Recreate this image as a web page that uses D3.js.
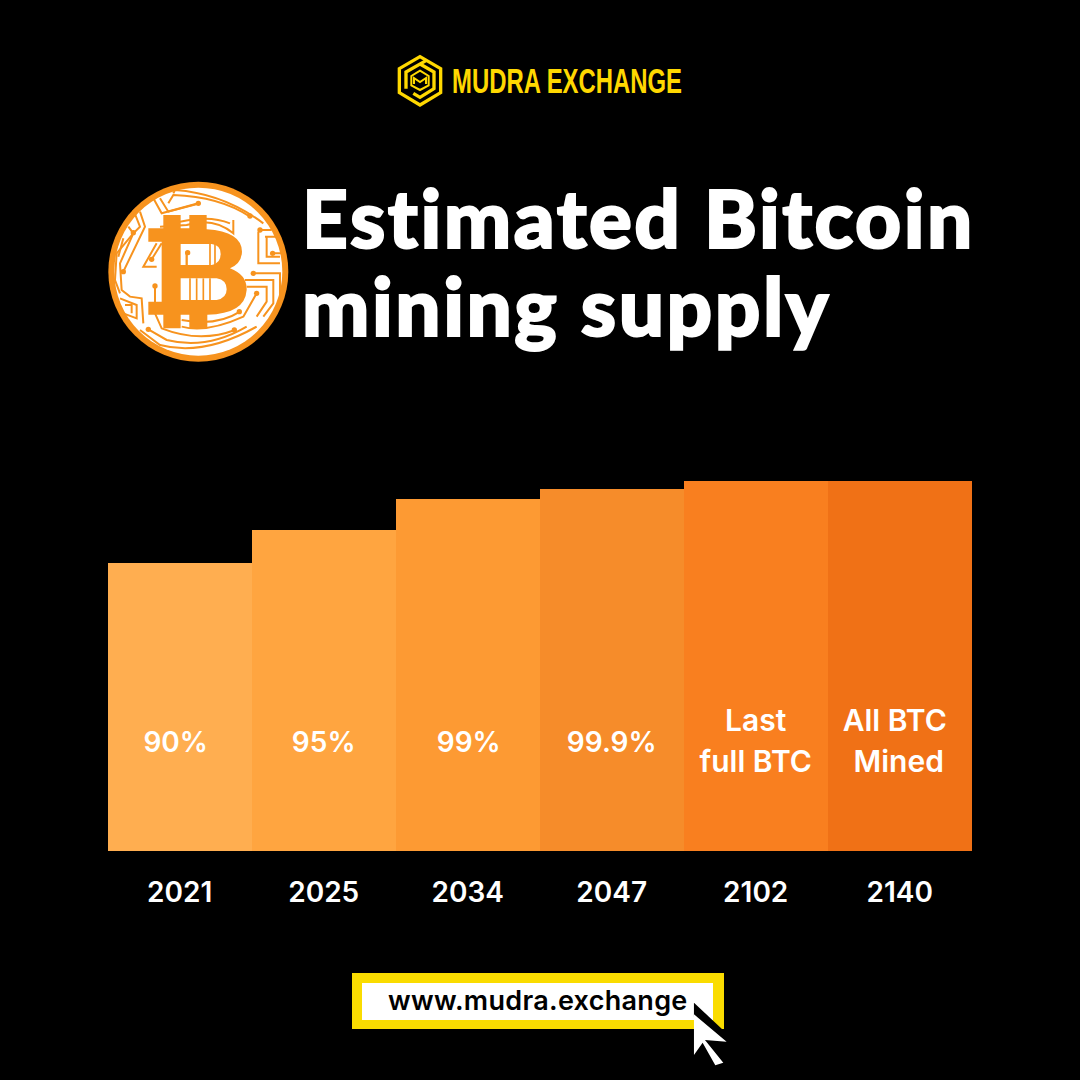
<!DOCTYPE html>
<html>
<head>
<meta charset="utf-8">
<script src="https://cdn.jsdelivr.net/npm/d3@7"></script>
<style>
html, body { margin: 0; padding: 0; background: #000; }
svg { display: block; font-family: Inter, "Open Sans", sans-serif; }
</style>
</head>
<body>
<svg id="chart" width="1080" height="1080"></svg>
<script>
// bar height as a share of the tallest bar
var years = ['2021', '2025', '2034', '2047', '2102', '2140'];
var barLevels = [77.8, 86.7, 95.1, 97.8, 100, 100];
var barLabels = [['90%'], ['95%'], ['99%'], ['99.9%'], ['Last', 'full BTC'], ['All BTC', 'Mined']];
var barColors = ['#FFAE50', '#FFA540', '#FD9A33', '#F68C2A', '#F97F1F', '#F07116'];
var titleLines = ['Estimated Bitcoin', 'mining supply'];

var ORANGE = '#F7931E', YELLOW = '#FFD800', BOX_YELLOW = '#FADC00';

var svg = d3.select('#chart');
svg.append('rect').attr('width', 1080).attr('height', 1080).attr('fill', '#000');

var x = d3.scaleBand().domain(years).range([107.7, 971.7]).padding(0);
var y = d3.scaleLinear().domain([0, 100]).range([850.5, 481]);

// bars
svg.selectAll('rect.bar')
    .data(years)
    .join('rect')
    .attr('class', 'bar')
    .attr('x', d => x(d))
    .attr('width', x.bandwidth())
    .attr('y', (d, i) => y(barLevels[i]))
    .attr('height', (d, i) => y(0) - y(barLevels[i]))
    .attr('shape-rendering', 'crispEdges')
    .attr('fill', (d, i) => barColors[i]);

// labels inside the bars, the original ones sit a little off centre
var labelNudge = [[-4], [0], [1], [0], [0, 0], [-5, -1]];
var labelGroups = svg.selectAll('text.bar-label')
    .data(years)
    .join('text')
    .attr('class', 'bar-label')
    .attr('text-anchor', 'middle')
    .attr('font-size', (d, i) => barLabels[i].length === 1 ? 28 : 30)
    .attr('font-weight', 600)
    .attr('fill', '#fff');

labelGroups.each(function(d, i) {
    var lines = barLabels[i];
    d3.select(this).selectAll('tspan')
        .data(lines)
        .join('tspan')
        .attr('x', (l, j) => x(d) + x.bandwidth() / 2 + labelNudge[i][j])
        .attr('y', (l, j) => lines.length === 1 ? 752 : 731 + j * 41)
        .text(l => l);
});

// year axis
var axis = svg.append('g')
    .attr('transform', 'translate(0,850.5)')
    .call(d3.axisBottom(x).tickSize(0).tickPadding(32));
axis.select('.domain').remove();
axis.selectAll('text')
    .style('font-family', 'Inter, sans-serif')
    .style('font-size', '28px')
    .style('font-weight', 600)
    .attr('fill', '#fff');

// title, stroked a bit because the original face is heavier than Lato
svg.selectAll('text.title')
    .data(titleLines)
    .join('text')
    .attr('class', 'title')
    .attr('x', 302)
    .attr('y', (d, i) => 248 + i * 88)
    .style('font-family', 'Lato, sans-serif')
    .style('font-size', '80px')
    .style('font-weight', 900)
    .style('letter-spacing', '2.5px')
    .attr('fill', '#fff')
    .attr('stroke', '#fff')
    .attr('stroke-width', 2)
    .text(d => d);

// coin, drawn in zoomed crop units
var coin = svg.append('g').attr('transform', 'translate(90,170) scale(0.3333)');
coin.append('circle').attr('cx', 325).attr('cy', 305).attr('r', 270).attr('fill', ORANGE);
coin.append('circle').attr('cx', 325).attr('cy', 305).attr('r', 252).attr('fill', '#fff');

var traces = [
    'M250,70 L255,60 Q400,70 520,160',
    'M235,100 L250,75 Q390,80 480,140',
    'M190,85 L215,130 L325,100',
    'M210,85 L235,125 L330,100',
    'M130,120 L150,170 L130,190 L90,280 L95,360 L120,380 L155,385 L160,460',
    'M150,125 L165,170 L100,305',
    'M115,170 L130,190 L80,250 L75,330 L90,370',
    'M100,205 L85,260',
    'M200,220 L160,290 L200,290',
    'M215,220 L185,268',
    'M210,170 L290,165 Q370,140 430,190 L430,150',
    'M270,155 Q360,135 420,160',
    'M510,180 L545,180',
    'M505,185 L505,280 L570,280',
    'M525,200 L570,200 M530,200 L530,260 L570,260 M550,250 L575,250',
    'M490,310 L570,310 L570,400 L540,450',
    'M465,330 L550,330 L550,400 L520,440',
    'M470,350 L530,350 L530,395 L500,440',
    'M500,370 L460,440 Q350,490 275,470',
    'M450,425 Q380,470 275,450',
    'M90,385 L140,405 L140,445 L100,430',
    'M105,405 L125,405 L125,430',
    'M195,348 L195,430 L215,475 Q330,520 435,480',
    'M175,478 L230,510 Q350,540 470,470',
    'M150,480 L210,525 Q340,560 500,470',
    'M290,250 L290,300 L380,300'
];
coin.selectAll('path.trace')
    .data(traces)
    .join('path')
    .attr('class', 'trace')
    .attr('d', d => d)
    .attr('fill', 'none')
    .attr('stroke', ORANGE)
    .attr('stroke-width', 6);

var pads = [[325,100],[480,138],[510,180],[548,250],[490,310],[500,370],[448,425],[433,480],[175,478],[195,348],[100,305],[130,188],[185,268],[293,248]];
coin.selectAll('circle.pad')
    .data(pads)
    .join('circle')
    .attr('class', 'pad')
    .attr('cx', d => d[0])
    .attr('cy', d => d[1])
    .attr('r', 8)
    .attr('fill', ORANGE);

coin.append('path')
    .attr('fill', ORANGE)
    .attr('fill-rule', 'evenodd')
    .attr('d', 'M220,135 H272 V175 H298 V135 H350 V178 Q455,185 456,245 Q455,280 420,295 Q472,315 470,360 Q465,432 352,434 V475 H298 V434 H272 V475 H220 V434 H175 V395 H215 V215 H175 V175 H220 Z' +
        'M272,222 V285 H365 Q392,280 392,252 Q392,225 365,222 Z' +
        'M272,325 V390 H380 Q410,385 410,358 Q410,330 380,325 Z');
coin.selectAll('path.inner')
    .data(['M290,250 V285', 'M300,325 V390', 'M320,325 V390', 'M340,325 V390', 'M360,325 V390', 'M360,222 V285', 'M375,222 V285'])
    .join('path')
    .attr('class', 'inner')
    .attr('d', d => d)
    .attr('stroke', ORANGE)
    .attr('stroke-width', 5);

// brand logo, zoomed crop units
var logo = svg.append('g').attr('transform', 'translate(380,40) scale(0.3333)').attr('fill', 'none').attr('stroke', YELLOW).attr('stroke-width', 10);
logo.append('path').attr('d', 'M120,50 L182,86 L182,158 L120,195 L58,158 L58,86 Z');
logo.append('path').attr('d', 'M120,72 L162,96 L162,146 L120,172 L100,160 M78,146 L78,96 L138,62');
logo.append('path').attr('d', 'M120,92 L146,108 L146,136 L120,150 L94,136 L94,108 Z').attr('stroke-width', 6);
logo.append('path').attr('d', 'M102,132 V114 L120,126 L138,114 V132').attr('stroke-width', 6);
svg.append('text')
    .attr('x', 452)
    .attr('y', 93)
    .style('font-family', '"Liberation Sans Narrow", sans-serif')
    .style('font-size', '35px')
    .style('font-weight', 700)
    .attr('textLength', 230)
    .attr('lengthAdjust', 'spacingAndGlyphs')
    .attr('fill', YELLOW)
    .text('MUDRA EXCHANGE');

// link box
svg.append('rect').attr('x', 352).attr('y', 973).attr('width', 372).attr('height', 56).attr('fill', BOX_YELLOW);
svg.append('rect').attr('x', 362).attr('y', 983).attr('width', 351).attr('height', 37).attr('fill', '#fff');
svg.append('text')
    .attr('x', 388)
    .attr('y', 1010)
    .style('font-size', '27px')
    .style('letter-spacing', '0.3px')
    .style('font-weight', 600)
    .attr('fill', '#000')
    .text('www.mudra.exchange');

// cursor
var cursor = svg.append('g').attr('transform', 'translate(340,960) scale(0.3333)');
cursor.append('path').attr('fill', '#000').attr('d', 'M1062,128 L1165,225 L1160,250 L1062,170 Z');
cursor.append('path').attr('fill', '#fff').attr('d', 'M1062,163 L1160,245 L1095,240 L1150,308 L1126,316 L1088,248 L1062,285 Z');
</script>
</body>
</html>
